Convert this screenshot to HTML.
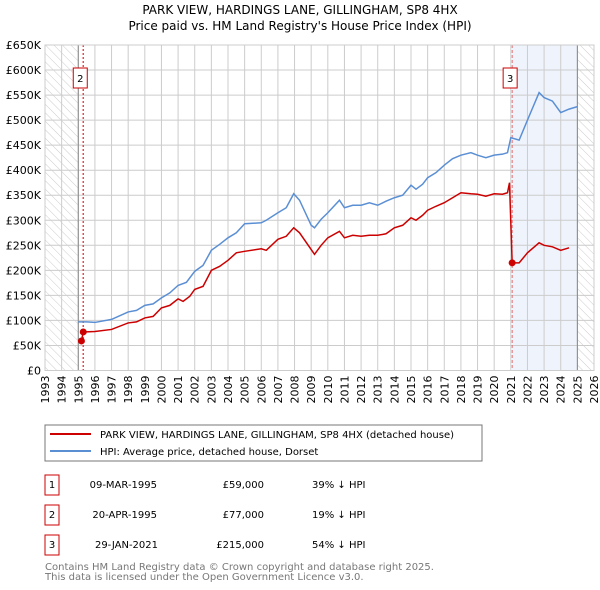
<!DOCTYPE html>
<html><head><meta charset="utf-8"><style>
body{margin:0;background:#fff;width:600px;height:590px;overflow:hidden;font-family:"DejaVu Sans","Liberation Sans",sans-serif}
svg{display:block}
</style></head><body>
<svg id="c" width="600" height="590" xmlns="http://www.w3.org/2000/svg" font-family="DejaVu Sans, Liberation Sans, sans-serif">
<defs><pattern id="hatch" width="6" height="6" patternUnits="userSpaceOnUse" patternTransform="rotate(-45)"><line x1="0" y1="0" x2="0" y2="6" stroke="#ccc" stroke-width="1"/></pattern></defs>
<text x="300" y="14" text-anchor="middle" font-size="12">PARK VIEW, HARDINGS LANE, GILLINGHAM, SP8 4HX</text>
<text x="300" y="30" text-anchor="middle" font-size="12">Price paid vs. HM Land Registry's House Price Index (HPI)</text>
<g id="plot"></g>
<rect x="45" y="425" width="437" height="36" fill="#fff" stroke="#777"/>
<line x1="50" y1="434" x2="91" y2="434" stroke="#cc0000" stroke-width="2"/>
<text x="100" y="438" font-size="10">PARK VIEW, HARDINGS LANE, GILLINGHAM, SP8 4HX (detached house)</text>
<line x1="50" y1="451" x2="91" y2="451" stroke="#5b8fd4" stroke-width="2"/>
<text x="100" y="455" font-size="10">HPI: Average price, detached house, Dorset</text>
<g font-size="10">
<rect x="45" y="475" width="14" height="20" fill="none" stroke="#cc0000"/><text x="52" y="488" text-anchor="middle">1</text>
<text x="157" y="488" text-anchor="end">09-MAR-1995</text><text x="264" y="488" text-anchor="end">£59,000</text><text x="312" y="488">39% ↓ HPI</text>
<rect x="45" y="505" width="14" height="20" fill="none" stroke="#cc0000"/><text x="52" y="518" text-anchor="middle">2</text>
<text x="157" y="518" text-anchor="end">20-APR-1995</text><text x="264" y="518" text-anchor="end">£77,000</text><text x="312" y="518">19% ↓ HPI</text>
<rect x="45" y="535" width="14" height="20" fill="none" stroke="#cc0000"/><text x="52" y="548" text-anchor="middle">3</text>
<text x="158" y="548" text-anchor="end">29-JAN-2021</text><text x="264" y="548" text-anchor="end">£215,000</text><text x="312" y="548">54% ↓ HPI</text>
</g>
<text x="45" y="570" font-size="10" fill="#777">Contains HM Land Registry data © Crown copyright and database right 2025.</text>
<text x="45" y="580" font-size="10" fill="#777">This data is licensed under the Open Government Licence v3.0.</text>
</svg>
<script>
const hpiYears=[1995,1995.5,1996,1997,1998,1998.5,1999,1999.5,2000,2000.5,2001,2001.5,2002,2002.5,2003,2003.5,2004,2004.5,2005,2006,2006.3,2007,2007.5,2007.95,2008.3,2009.0,2009.2,2009.6,2010,2010.7,2011,2011.5,2012,2012.5,2013,2013.5,2014,2014.5,2015,2015.3,2015.7,2016,2016.5,2017,2017.5,2018,2018.6,2019,2019.5,2020,2020.5,2020.8,2021.0,2021.5,2022,2022.7,2023,2023.5,2024,2024.5,2025];
const hpiValues=[97,97,96,102,117,120,130,133,145,155,170,176,198,210,240,252,265,275,293,295,300,315,325,353,340,290,285,302,315,340,325,330,330,335,330,338,345,350,370,362,372,385,395,410,423,430,435,430,425,430,432,435,465,460,500,555,545,538,515,522,527];
const propYears=[1995.19,1995.3,1996,1997,1998,1998.5,1999,1999.5,2000,2000.5,2001,2001.3,2001.7,2002,2002.5,2003,2003.5,2004,2004.5,2005,2006,2006.3,2007,2007.5,2007.95,2008.3,2009.2,2009.6,2010,2010.7,2011,2011.5,2012,2012.5,2013,2013.5,2014,2014.5,2015,2015.3,2015.7,2016,2016.5,2017,2017.5,2018,2018.6,2019,2019.5,2020,2020.5,2020.8,2020.92,2021.08,2021.5,2022,2022.7,2023,2023.5,2024,2024.5,2025];
const propValues=[59,77,78,82,95,97,105,108,125,130,143,138,148,162,168,200,208,220,235,238,243,240,262,268,285,275,232,250,265,278,265,270,268,270,270,273,285,290,305,300,310,320,328,335,345,355,353,352,348,353,352,355,375,215,215,235,255,250,247,240,245];
const saleYears=[1995.19,1995.3,2021.08];
const saleValues=[59,77,215];
const saleLabels=["1","2","3"];
const yTicks=[0,50,100,150,200,250,300,350,400,450,500,550,600,650];
const yTickLabels=["£0","£50K","£100K","£150K","£200K","£250K","£300K","£350K","£400K","£450K","£500K","£550K","£600K","£650K"];
const xTicks=[1993,1994,1995,1996,1997,1998,1999,2000,2001,2002,2003,2004,2005,2006,2007,2008,2009,2010,2011,2012,2013,2014,2015,2016,2017,2018,2019,2020,2021,2022,2023,2024,2025,2026];
const NS="http://www.w3.org/2000/svg";
const X0=45,X1=594,Y0=370.5,Y1=45;
const xs=v=>X0+(v-1993)/(2026-1993)*(X1-X0);
const ys=v=>Y0-v/650*(Y0-Y1);
const g=document.getElementById('plot');
function mk(t,a){const e=document.createElementNS(NS,t);for(const k in a)e.setAttribute(k,a[k]);g.appendChild(e);return e;}
let e;
e=mk('rect',{x:X0,y:Y1,width:X1-X0,height:Y0-Y1,fill:'#fff'});


e=mk('rect',{x:xs(2021.08),y:Y1,width:xs(2025)-xs(2021.08),height:Y0-Y1,fill:'#eef3fc'});


e=mk('rect',{x:X0,y:Y1,width:xs(1995)-X0,height:Y0-Y1,fill:'url(#hatch)'});


e=mk('rect',{x:xs(2025),y:Y1,width:X1-xs(2025),height:Y0-Y1,fill:'url(#hatch)'});


yTicks.forEach((v,i)=>{
 e=mk('line',{x1:X0,x2:X1,y1:ys(v),y2:ys(v),stroke:'#ccc','stroke-width':1});
 
 
 e=mk('text',{x:X0-4,y:ys(v)+4,'text-anchor':'end','font-size':11});
 e.textContent=yTickLabels[i];
 
 
});
xTicks.forEach(v=>{
 e=mk('line',{x1:xs(v),x2:xs(v),y1:Y1,y2:Y0,stroke:'#ccc','stroke-width':1});
 
 
 e=mk('text',{x:xs(v)+4,y:Y0+5,'text-anchor':'end','font-size':11,transform:`rotate(-90 ${xs(v)+4} ${Y0+5})`});
 e.textContent=v;
 
 
});
e=mk('line',{x1:xs(1995),x2:xs(1995),y1:Y1,y2:Y0,stroke:'#888','stroke-width':1});


e=mk('line',{x1:xs(2025),x2:xs(2025),y1:Y1,y2:Y0,stroke:'#888','stroke-width':1});


[[1,1.5,'2 2',-3],[2,0.8,'3 2',-2]].forEach(([idx,w,d,off])=>{
 const yr=saleYears[idx];
 e=mk('line',{x1:xs(yr),x2:xs(yr),y1:Y1,y2:Y0,stroke:'#e05050','stroke-width':w,'stroke-dasharray':d});
 
 
 const bx=xs(yr)+off-7;
 e=mk('rect',{x:bx,y:68,width:14,height:20,fill:'#fff',stroke:'#cc0000'});
 
 
 e=mk('text',{x:bx+7,y:82,'text-anchor':'middle','font-size':10});
 e.textContent=saleLabels[idx];
 
 
});
e=mk('polyline',{points:hpiYears.map((y,i)=>xs(y)+','+ys(hpiValues[i])).join(' '),fill:'none',stroke:'#5b8fd4','stroke-width':1.5});


e=mk('polyline',{points:propYears.map((y,i)=>xs(y)+','+ys(propValues[i])).join(' '),fill:'none',stroke:'#cc0000','stroke-width':1.5});


saleYears.forEach((y,i)=>{
 e=mk('circle',{cx:xs(y),cy:ys(saleValues[i]),r:3.5,fill:'#cc0000'});
 
 
});
e=mk('rect',{x:X0,y:Y1,width:X1-X0,height:Y0-Y1,fill:'none',stroke:'#ccc'});


</script>
</body></html>
